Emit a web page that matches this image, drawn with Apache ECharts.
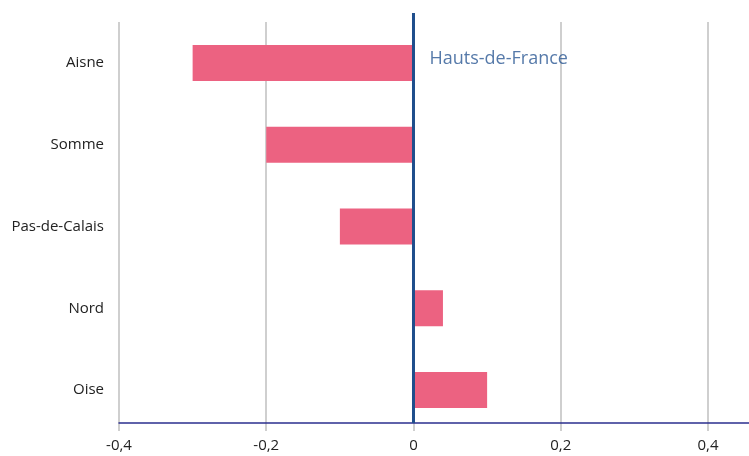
<!DOCTYPE html>
<html>
<head>
<meta charset="utf-8">
<script src="https://cdn.jsdelivr.net/npm/echarts@6/dist/echarts.min.js"></script>
<style>
  html, body { margin: 0; padding: 0; background: #fff; }
  #chart { width: 749px; height: 456px; }
</style>
</head>
<body>
<div id="chart"></div>
<script>
// données
var departements = ['Aisne', 'Somme', 'Pas-de-Calais', 'Nord', 'Oise'];
var valeurs = [-0.3, -0.2, -0.1, 0.04, 0.1];
var regionLabel = 'Hauts-de-France';
var regionValue = 0;

var FONT = '"Open Sans", "Noto Sans", sans-serif';
var chart = echarts.init(document.getElementById('chart'));

function fmt(v) {
  return String(Math.round(v * 10) / 10).replace('.', ',');
}

chart.setOption({
  animation: false,
  grid: [
    // zone des barres
    { left: 119, right: 0, top: 22, bottom: 25 },
    // axe horizontal + trait de la région
    { left: 119, right: 0, top: 13, bottom: 33 }
  ],
  xAxis: [
    {
      gridIndex: 0,
      type: 'value',
      min: -0.4,
      max: 0.4557,
      interval: 0.2,
      axisLine: { show: false },
      axisTick: { show: false },
      axisLabel: { show: false },
      splitLine: { showMaxLine: false, lineStyle: { color: '#cfcfcf', width: 2 } }
    },
    {
      gridIndex: 1,
      type: 'value',
      min: -0.4,
      max: 0.4557,
      interval: 0.2,
      axisLine: { onZero: false, lineStyle: { color: '#2b2f8f', width: 1.5 } },
      axisTick: { show: false },
      splitLine: { show: false },
      axisLabel: {
        showMaxLabel: false,
        margin: 15,
        color: '#222',
        fontSize: 15,
        fontFamily: FONT,
        formatter: fmt
      }
    }
  ],
  yAxis: [
    {
      gridIndex: 0,
      type: 'category',
      inverse: true,
      data: departements,
      axisLine: { show: false },
      axisTick: { show: false },
      axisLabel: { margin: 15, color: '#222', fontSize: 15, fontFamily: FONT }
    },
    {
      gridIndex: 1,
      type: 'value',
      min: 0,
      max: 1,
      show: false
    }
  ],
  series: [
    {
      type: 'bar',
      xAxisIndex: 0,
      yAxisIndex: 0,
      data: valeurs,
      barWidth: 36,
      itemStyle: { color: '#ec6281' }
    },
    {
      type: 'line',
      xAxisIndex: 1,
      yAxisIndex: 1,
      data: [[regionValue, 0], [regionValue, 1]],
      symbol: 'none',
      lineStyle: { color: '#1f4e8c', width: 3 },
      z: 5
    },
    {
      type: 'scatter',
      xAxisIndex: 1,
      yAxisIndex: 1,
      data: [[regionValue, 0.888]],
      symbolSize: 0,
      label: {
        show: true,
        position: 'right',
        distance: 16,
        formatter: regionLabel,
        color: '#2a5894',
        fontSize: 18,
        fontFamily: FONT
      }
    }
  ]
});
</script>
</body>
</html>
